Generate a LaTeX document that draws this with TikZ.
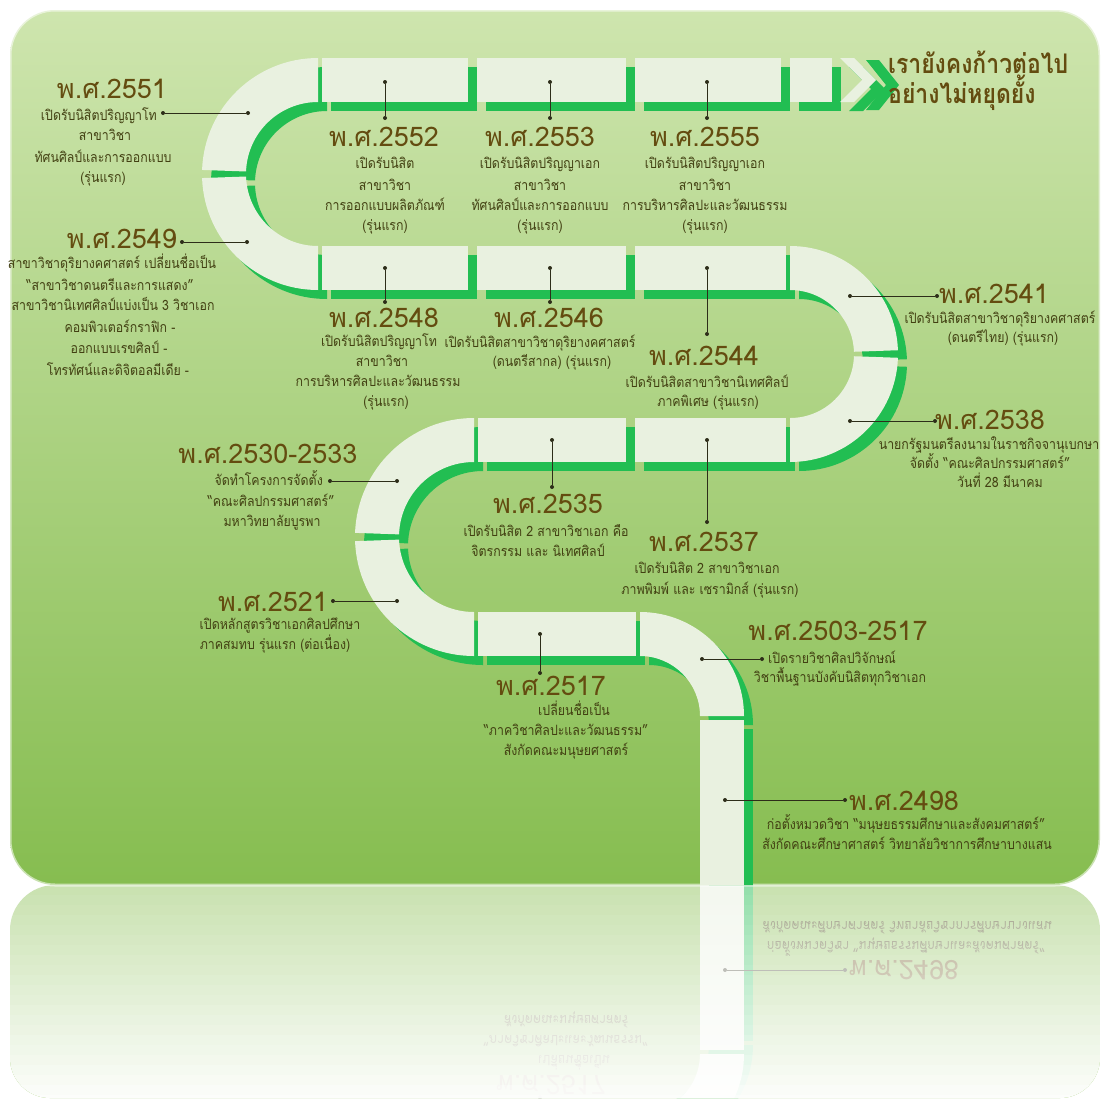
\documentclass[tikz,border=0pt]{standalone}
\usepackage{fontspec}
\newfontfamily\thai[Script=Thai]{Loma}
\newfontfamily\thaib[Script=Thai,FakeStretch=0.87]{Loma}
\newfontfamily\thaic[Script=Thai,FakeStretch=0.85]{Loma}
\definecolor{roadl}{RGB}{233,241,224}
\definecolor{roadg}{RGB}{34,190,82}
\definecolor{bgtop}{RGB}{206,229,174}
\definecolor{bgbot}{RGB}{134,189,80}
\definecolor{headc}{RGB}{100,76,16}
\definecolor{bodyc}{RGB}{66,64,18}
\definecolor{linec}{RGB}{45,45,25}
\newcounter{lnum}
\newcommand\bl[3]{\stepcounter{lnum}\node[bodytext] (l\arabic{lnum}) at (#1,#2) {#3};}
\newcommand\blx[4]{\stepcounter{lnum}\node[bodytext,anchor=#1] (l\arabic{lnum}) at (#2,#3) {#4};}
\newcommand\ring[7]{\fill[#7,shift={(#1,#2)}] (#5:#4) arc[start angle=#5,end angle=#6,radius=#4] -- (#6:#3) arc[start angle=#6,end angle=#5,radius=#3] -- cycle;}
\newcommand\roadpieces[1]{%
 \ring{318}{174}{72}{116}{182}{270}{#1}%
 \ring{318}{174}{72}{116}{90}{178}{#1}%
 \ring{790}{354}{64}{108}{270}{358}{#1}%
 \ring{790}{354}{64}{108}{2}{90}{#1}%
 \ring{474}{537}{75}{119}{182}{270}{#1}%
 \ring{474}{537}{75}{119}{90}{178}{#1}%
 \ring{640}{716}{60}{104}{270}{360}{#1}%
 \fill[#1] (322,58) rectangle (468,102);
 \fill[#1] (477,58) rectangle (626,102);
 \fill[#1] (635,58) rectangle (781,102);
 \fill[#1] (790,58) rectangle (832,102);
 \fill[#1] (322,246) rectangle (468,290);
 \fill[#1] (477,246) rectangle (626,290);
 \fill[#1] (635,246) rectangle (786,290);
 \fill[#1] (478,418) rectangle (626,462);
 \fill[#1] (635,418) rectangle (786,462);
 \fill[#1] (478,612) rectangle (636,656);
 \fill[#1] (700,720) rectangle (744,900);
 \fill[#1] (840,58) -- (854,58) -- (876,80) -- (854,102) -- (840,102) -- (862,80) -- cycle;
}
\newcommand\lowlabels[1]{%
 \node[headtext] (#1h2498) at (904,810) {พ.ศ.2498};
 \bl{906}{829}{ก่อตั้งหมวดวิชา “มนุษยธรรมศึกษาและสังคมศาสตร์”}
 \bl{907}{849}{สังกัดคณะศึกษาศาสตร์ วิทยาลัยวิชาการศึกษาบางแสน}
 \node[tip] (#1a2498) at (725,800) {};
 \node[tip] (#1b2498) at (845,800) {};
 \draw[conn] (#1a2498) -- (#1b2498);
 \node[headtext] (#1h2517) at (551,695) {พ.ศ.2517};
 \bl{574}{715}{เปลี่ยนชื่อเป็น}
 \bl{566}{735}{“ภาควิชาศิลปะและวัฒนธรรม”}
 \bl{566}{755}{สังกัดคณะมนุษยศาสตร์}
 \node[tip] (#1a2517) at (540,634) {};
 \node[tip] (#1b2517) at (540,673) {};
 \draw[conn] (#1a2517) -- (#1b2517);
}
\tikzset{
  headtext/.style={font=\thai\fontsize{27}{30}\selectfont, text=headc, inner sep=0pt, anchor=base},
  bodytext/.style={font=\thaib\fontsize{14.2}{18}\selectfont, text=bodyc, inner sep=0pt, anchor=base},
  slogan/.style={font=\thaic\bfseries\fontsize{27}{30}\selectfont, text=headc, inner sep=0pt, anchor=base west},
  conn/.style={draw=linec, line width=0.7pt},
  tip/.style={fill=linec, circle, inner sep=0pt, minimum size=4pt},
}
\begin{document}
\begin{tikzpicture}[x=1pt,y=-1pt]
\useasboundingbox (0,0) rectangle (1105,1106);
\fill[white] (0,0) rectangle (1105,1106);
% ---------- reflection ----------
\begin{scope}
 \clip (0,885) rectangle (1105,1106);
 \clip[rounded corners=40] (10,600) rectangle (1100,1098);
 \begin{scope}[shift={(0,1770)}, yscale=-1, transform shape]
   \fill[bgbot!85!bgtop, rounded corners=45] (10,500) rectangle (1100,885);
   \begin{scope}[shift={(9,9)}] \roadpieces{roadg} \end{scope}
   \roadpieces{roadl}
   \lowlabels{r}
 \end{scope}
 \foreach \i in {0,...,21} {
   \pgfmathsetmacro\op{0.52+0.022*\i}
   \fill[white, opacity=\op] (0,{885+10*\i}) rectangle (1105,{895+10*\i});
 }
\end{scope}
% ---------- background ----------
\shade[top color=bgtop, bottom color=bgbot, rounded corners=45] (10,10) rectangle (1100,885);
\draw[white, opacity=0.55, line width=3pt, rounded corners=45] (10,10) rectangle (1100,885);
% ---------- road ----------
\begin{scope}
 \clip[rounded corners=45] (10,10) rectangle (1100,885);
 \begin{scope}[shift={(9,9)}] \roadpieces{roadg} \end{scope}
 \roadpieces{roadl}
 \fill[roadg] (866,60) -- (879,60) -- (899,85) -- (879,110) -- (866,110) -- (886,85) -- cycle;
\end{scope}
% ---------- slogan ----------
\node[slogan] (s1) at (888,73) {เรายังคงก้าวต่อไป};
\node[slogan] (s2) at (888,103) {อย่างไม่หยุดยั้ง};
% ---------- connectors ----------
\foreach \n/\ax/\ay/\bx/\by in {2551/248/113/163/113, 2549/247/242/182/242,
  2552/385/82/385/118, 2553/550/82/550/118, 2555/707/82/707/118,
  2548/385/268/385/302, 2546/550/268/550/302, 2544/707/268/707/334,
  2541/850/296/937/296, 2538/850/421/935/421, 2530/397/481/330/481,
  2535/552/440/552/487, 2537/707/440/707/522, 2521/397/601/333/601,
  2503/702/659/762/659} {
  \node[tip] (a\n) at (\ax,\ay) {};
  \node[tip] (b\n) at (\bx,\by) {};
  \draw[conn] (a\n) -- (b\n);
}
% ---------- labels ----------
\node[headtext] (h2551) at (112,98) {พ.ศ.2551};
\blx{base east}{157}{120}{เปิดรับนิสิตปริญญาโท}
\bl{105}{140}{สาขาวิชา}
\bl{103}{162}{ทัศนศิลป์และการออกแบบ}
\bl{103}{182}{(รุ่นแรก)}

\node[headtext] (h2549) at (122,248) {พ.ศ.2549};
\bl{112}{268}{สาขาวิชาดุริยางคศาสตร์ เปลี่ยนชื่อเป็น}
\bl{110}{290}{“สาขาวิชาดนตรีและการแสดง”}
\bl{113}{310}{สาขาวิชานิเทศศิลป์แบ่งเป็น 3 วิชาเอก}
\bl{120}{332}{คอมพิวเตอร์กราฟิก -}
\bl{119}{353}{ออกแบบเรขศิลป์ -}
\bl{118}{375}{โทรทัศน์และดิจิตอลมีเดีย -}

\node[headtext] (h2552) at (384,146) {พ.ศ.2552};
\bl{385}{168}{เปิดรับนิสิต}
\bl{385}{190}{สาขาวิชา}
\bl{385}{210}{การออกแบบผลิตภัณฑ์}
\bl{385}{230}{(รุ่นแรก)}

\node[headtext] (h2553) at (540,146) {พ.ศ.2553};
\bl{540}{168}{เปิดรับนิสิตปริญญาเอก}
\bl{540}{190}{สาขาวิชา}
\bl{540}{210}{ทัศนศิลป์และการออกแบบ}
\bl{540}{230}{(รุ่นแรก)}

\node[headtext] (h2555) at (705,146) {พ.ศ.2555};
\bl{705}{168}{เปิดรับนิสิตปริญญาเอก}
\bl{705}{190}{สาขาวิชา}
\bl{705}{210}{การบริหารศิลปะและวัฒนธรรม}
\bl{705}{230}{(รุ่นแรก)}

\node[headtext] (h2548) at (384,327) {พ.ศ.2548};
\bl{379}{346}{เปิดรับนิสิตปริญญาโท}
\bl{382}{366}{สาขาวิชา}
\bl{378}{386}{การบริหารศิลปะและวัฒนธรรม}
\bl{386}{406}{(รุ่นแรก)}

\node[headtext] (h2546) at (549,327) {พ.ศ.2546};
\bl{540}{347}{เปิดรับนิสิตสาขาวิชาดุริยางคศาสตร์}
\bl{552}{366}{(ดนตรีสากล) (รุ่นแรก)}

\node[headtext] (h2544) at (704,365) {พ.ศ.2544};
\bl{707}{387}{เปิดรับนิสิตสาขาวิชานิเทศศิลป์}
\bl{708}{406}{ภาคพิเศษ (รุ่นแรก)}

\node[headtext] (h2541) at (994,303) {พ.ศ.2541};
\bl{1000}{323}{เปิดรับนิสิตสาขาวิชาดุริยางคศาสตร์}
\bl{1003}{342}{(ดนตรีไทย) (รุ่นแรก)}

\node[headtext] (h2538) at (990,429) {พ.ศ.2538};
\bl{989}{449}{นายกรัฐมนตรีลงนามในราชกิจจานุเบกษา}
\bl{990}{468}{จัดตั้ง “คณะศิลปกรรมศาสตร์”}
\bl{1000}{487}{วันที่ 28 มีนาคม}

\node[headtext] (h2530) at (268,463) {พ.ศ.2530-2533};
\blx{base east}{323}{485}{จัดทำโครงการจัดตั้ง}
\bl{271}{506}{“คณะศิลปกรรมศาสตร์”}
\bl{272}{526}{มหาวิทยาลัยบูรพา}

\node[headtext] (h2535) at (548,513) {พ.ศ.2535};
\bl{546}{536}{เปิดรับนิสิต 2 สาขาวิชาเอก คือ}
\bl{538}{556}{จิตรกรรม และ นิเทศศิลป์}

\node[headtext] (h2537) at (704,551) {พ.ศ.2537};
\bl{707}{573}{เปิดรับนิสิต 2 สาขาวิชาเอก}
\bl{710}{594}{ภาพพิมพ์ และ เซรามิกส์ (รุ่นแรก)}

\node[headtext] (h2521) at (273,611) {พ.ศ.2521};
\bl{280}{629}{เปิดหลักสูตรวิชาเอกศิลปศึกษา}
\bl{275}{649}{ภาคสมทบ รุ่นแรก (ต่อเนื่อง)}

\node[headtext] (h2503) at (838,640) {พ.ศ.2503-2517};
\blx{base west}{768}{663}{เปิดรายวิชาศิลปวิจักษณ์}
\bl{840}{682}{วิชาพื้นฐานบังคับนิสิตทุกวิชาเอก}

\lowlabels{}
\end{tikzpicture}
\end{document}
